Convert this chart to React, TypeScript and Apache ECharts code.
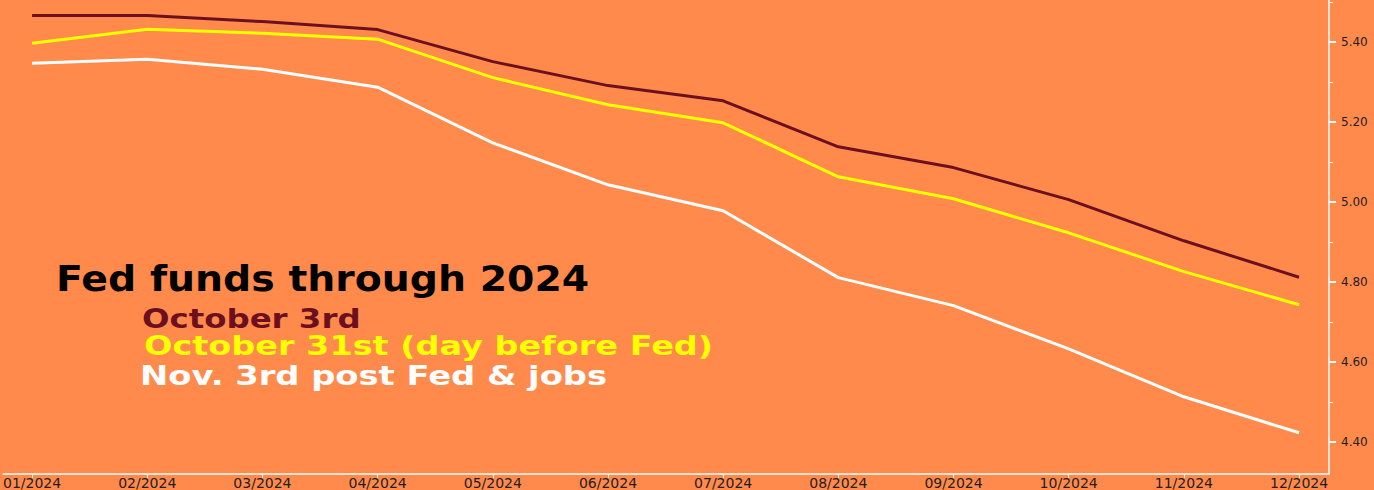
import React, { useEffect, useRef } from "react";
import * as echarts from "echarts";

const months = ["01/2024", "02/2024", "03/2024", "04/2024", "05/2024", "06/2024", "07/2024", "08/2024", "09/2024", "10/2024", "11/2024", "12/2024"];
const october3rd = [5.466, 5.466, 5.451, 5.431, 5.351, 5.291, 5.253, 5.138, 5.086, 5.006, 4.903, 4.812];
const october31st = [5.397, 5.432, 5.422, 5.407, 5.311, 5.243, 5.198, 5.063, 5.008, 4.923, 4.826, 4.743];
const nov3rd = [5.347, 5.357, 5.332, 5.287, 5.148, 5.043, 4.978, 4.811, 4.741, 4.633, 4.513, 4.423];
const yTicks = [4.4, 4.6, 4.8, 5.0, 5.2, 5.4];
const yMinorTicks = [4.5, 4.7, 4.9, 5.1, 5.3, 5.5];
const titleText = "Fed funds through 2024";
const legendTexts = ["October 3rd", "October 31st (day before Fed)", "Nov. 3rd post Fed & jobs"];

const MAROON = "#6C1020";
const YELLOW = "#FFFF00";
const WHITE = "#FFFFFF";
const BG = "#FF8A4C";
const FONT = "DejaVu Sans";

export default function App() {
  const ref = useRef<HTMLDivElement>(null);
  useEffect(() => {
    if (!ref.current) return;
    const chart = echarts.init(ref.current, undefined, { renderer: "svg" });
    const idx = months.map((_, i) => i);
    const mk = (name: string, vals: number[], color: string) => ({
      name,
      type: "line",
      data: vals.map((v, i) => [idx[i], v]),
      symbol: "none",
      lineStyle: { color, width: 3 },
      itemStyle: { color },
    });
    chart.setOption({
      animation: false,
      backgroundColor: BG,
      grid: { left: 0, right: 45, top: 0, bottom: 16 },
      xAxis: {
        type: "value",
        min: -0.251,
        max: 11.26,
        axisLine: { show: true, onZero: false, lineStyle: { color: WHITE, width: 1.5 } },
        axisTick: { show: true, customValues: idx, length: 4, lineStyle: { color: WHITE, width: 1 } },
        axisLabel: {
          customValues: idx,
          formatter: (v: number) => months[Math.round(v)] ?? "",
          color: "#1e1e1e",
          fontFamily: FONT,
          fontSize: 14,
          margin: 2,
        },
        splitLine: { show: false },
      },
      yAxis: [
        {
          type: "value",
          position: "right",
          min: 4.32,
          max: 5.505,
          axisLine: { show: true, onZero: false, lineStyle: { color: WHITE, width: 1.5 } },
          axisTick: { show: true, customValues: yTicks, length: 7, lineStyle: { color: WHITE, width: 2 } },
          axisLabel: {
            customValues: yTicks,
            formatter: (v: number) => v.toFixed(2),
            color: "#1e1e1e",
            fontFamily: FONT,
            fontSize: 12,
            margin: 12,
          },
          splitLine: { show: false },
        },
        {
          type: "value",
          position: "right",
          min: 4.32,
          max: 5.505,
          axisLine: { show: false, onZero: false },
          axisTick: { show: true, customValues: yMinorTicks, length: 4, lineStyle: { color: WHITE, width: 1 } },
          axisLabel: { show: false },
          splitLine: { show: false },
        },
      ],
      series: [mk(legendTexts[0], october3rd, MAROON), mk(legendTexts[1], october31st, YELLOW), mk(legendTexts[2], nov3rd, WHITE)],
      graphic: [
        {
          type: "text",
          x: 56,
          y: 279,
          scaleX: 1.125,
          style: { text: titleText, fill: "#000", font: `bold 35px "${FONT}"`, verticalAlign: "middle", align: "left" },
        },
        {
          type: "text",
          x: 142,
          y: 318.5,
          scaleX: 1.2,
          style: { text: legendTexts[0], fill: MAROON, font: `bold 27px "${FONT}"`, verticalAlign: "middle", align: "left" },
        },
        {
          type: "text",
          x: 144,
          y: 345.5,
          scaleX: 1.24,
          style: { text: legendTexts[1], fill: YELLOW, font: `bold 27px "${FONT}"`, verticalAlign: "middle", align: "left" },
        },
        {
          type: "text",
          x: 140,
          y: 376,
          scaleX: 1.25,
          style: { text: legendTexts[2], fill: WHITE, font: `bold 27px "${FONT}"`, verticalAlign: "middle", align: "left" },
        },
      ],
    });
    return () => chart.dispose();
  }, []);
  return <div ref={ref} style={{ position: "absolute", left: 0, top: 0, width: 1374, height: 490 }} />;
}
